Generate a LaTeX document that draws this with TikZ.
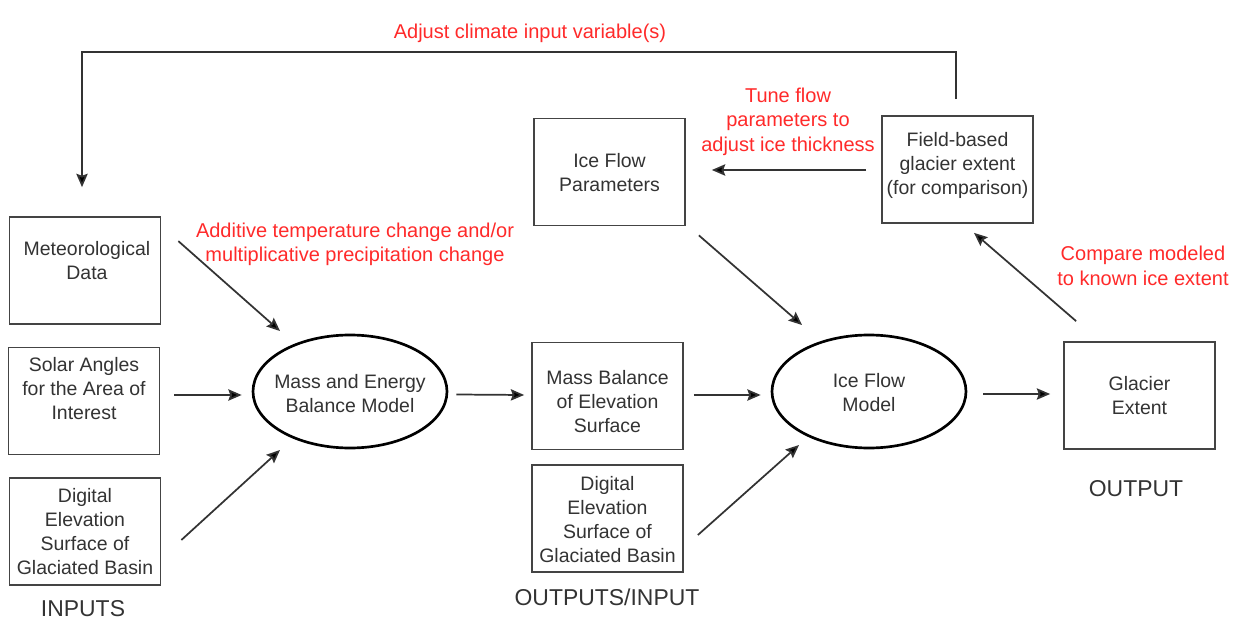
\documentclass[tikz,border=0pt]{standalone}
\usepackage{fontspec}
\setmainfont{Liberation Sans}
\usetikzlibrary{arrows.meta,calc,shapes.geometric}
\definecolor{txtgray}{HTML}{333333}
\definecolor{boxgray}{HTML}{444444}
\definecolor{lblred}{HTML}{FF2A2A}
\tikzset{
  box/.style={draw=boxgray, line width=1.3pt, minimum width=113.25pt, minimum height=80.25pt, inner sep=0pt},
  oval/.style={ellipse, draw=black, line width=2pt, minimum width=145.5pt, minimum height=84.75pt, inner sep=0pt},
  txt/.style={text=txtgray, align=center, font=\fontsize{14.6pt}{18pt}\selectfont, inner sep=0pt},
  big/.style={text=txtgray, align=center, font=\fontsize{17.2pt}{20pt}\selectfont, inner sep=0pt},
  red/.style={text=lblred, align=center, font=\fontsize{15pt}{18.4pt}\selectfont, inner sep=0pt},
  arr/.style={draw=txtgray, line width=1.3pt, -{Stealth[length=10pt,width=8.5pt,inset=1.5pt,fill=black]}}
}
\begin{document}
\begin{tikzpicture}[x=0.75pt,y=-0.75pt]
\useasboundingbox[fill=white] (0,0) rectangle (1236,624);
% boxes
\node[box] (met) at (85,270.5) {};
\node[box] (sol) at (84,401) {};
\node[box] (dema) at (85,531.5) {};
\node[box] (mb) at (607.5,396) {};
\node[box] (demb) at (607.5,518.5) {};
\node[box] (ifp) at (609.5,172) {};
\node[box] (field) at (957.5,169.5) {};
\node[box] (ge) at (1139.5,395.5) {};
\node[oval] (meb) at (350,391.5) {};
\node[oval] (ifm) at (869,391.5) {};
% texts
\node[txt] (metT) at (87,261) {Meteorological\\Data};
\node[txt] (solT) at (84,388.5) {Solar Angles\\for the Area of\\Interest};
\node[txt] (demaT) at (85,531.5) {Digital\\Elevation\\Surface of\\Glaciated Basin};
\node[txt] (mbT) at (607.5,401.5) {Mass Balance\\of Elevation\\Surface};
\node[txt] (dembT) at (607.5,520) {Digital\\Elevation\\Surface of\\Glaciated Basin};
\node[txt] (ifpT) at (609.5,172.5) {Ice Flow\\Parameters};
\node[txt] (fieldT) at (957.5,165) {Field-based\\glacier extent\\(for comparison)};
\node[txt] (geT) at (1139.5,396) {Glacier\\Extent};
\node[txt] (mebT) at (350,393.5) {Mass and Energy\\Balance Model};
\node[txt] (ifmT) at (869,392.5) {Ice Flow\\Model};
\node[big] (inputs) at (83,609) {INPUTS};
\node[big] (outin) at (607,597) {OUTPUTS/INPUT};
\node[big] (output) at (1136,489) {OUTPUT};
% red labels
\node[red] (adjust) at (530,33) {Adjust climate input variable(s)};
\node[red] (additive) at (355,244.5) {Additive temperature change and/or\\multiplicative precipitation change};
\node[red] (tune) at (788,121.5) {Tune flow\\parameters to\\adjust ice thickness};
\node[red] (compare) at (1143,266) {Compare modeled\\to known ice extent};
% arrows
\draw[arr] ($(met.north east)+(17,25)$) -- ($(meb.center)+(-70,-60.5)$);
\draw[arr] ($(sol.east)+(14,-6)$) -- ($(meb.west)+(-10,3.5)$);
\draw[arr] ($(dema.east)+(20,8.5)$) -- ($(meb.center)+(-70,58.5)$);
\draw[arr] ($(meb.east)+(8,3)$) -- ($(mb.west)+(-7,-1)$);
\draw[arr] ($(mb.east)+(10,-1)$) -- ($(ifm.west)+(-10,3.5)$);
\draw[arr] ($(demb.east)+(14,16.5)$) -- ($(ifm.center)+(-70,53.5)$);
\draw[arr] ($(ifp.south east)+(13,9)$) -- ($(ifm.center)+(-67,-66.5)$);
\draw[arr] ($(ifm.east)+(16,2.5)$) -- ($(ge.west)+(-13,-1.5)$);
\draw[arr] ($(ge.north west)+(13,-20)$) -- ($(field.south)+(16.5,9)$);
\draw[arr] ($(field.west)+(-15,0.5)$) -- ($(ifp.east)+(26,-2)$);
\draw[arr] ($(field.north)+(-1.5,-16)$) -- ++(0,-47) -| ($(met.north)+(-3,-29)$);
\end{tikzpicture}
\end{document}
